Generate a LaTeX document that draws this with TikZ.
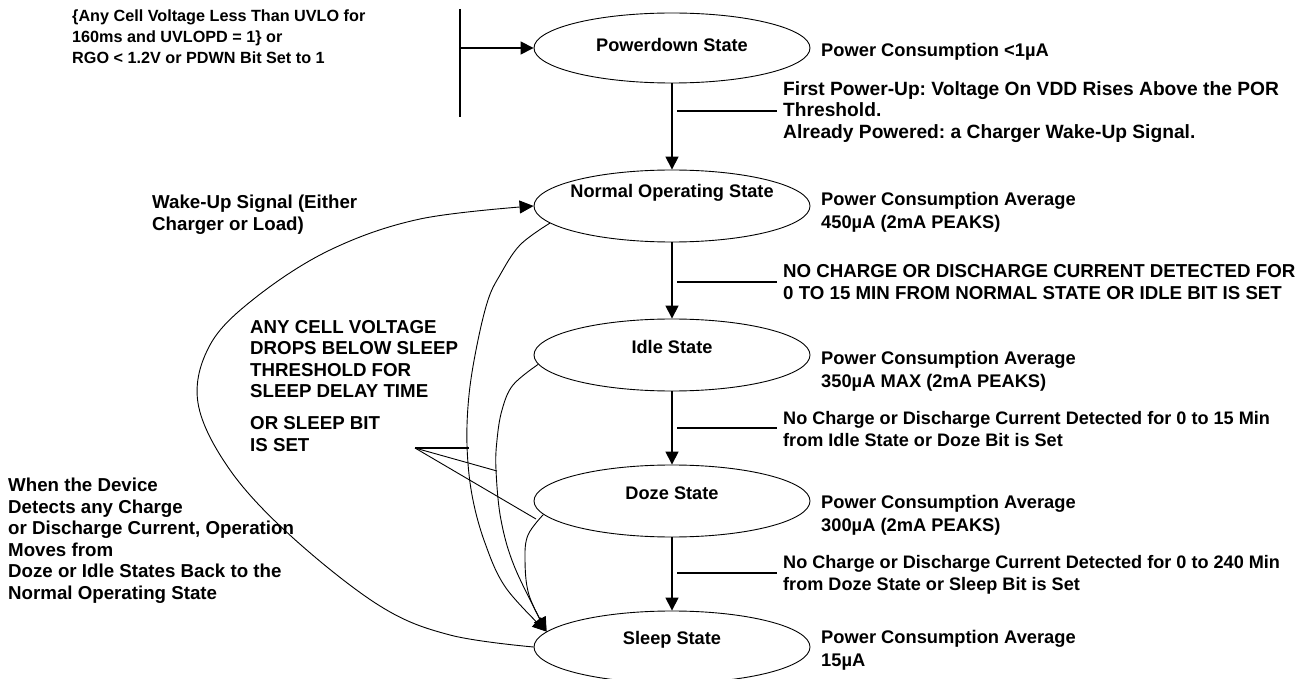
\documentclass[tikz,border=0pt]{standalone}
\usepackage{fontspec}
\setmainfont{Liberation Sans}
\usetikzlibrary{arrows.meta,shapes.geometric}
\newcommand\dgfont{\fontsize{18.7}{21.5}\selectfont\bfseries\frenchspacing}
\newcommand\dgsmfont{\fontsize{18.1}{21.5}\selectfont\bfseries\frenchspacing}
\newcommand\dgbigfont{\fontsize{19.2}{21.5}\selectfont\bfseries\frenchspacing}
\newcommand\dgstfont{\fontsize{18.2}{21.5}\selectfont\bfseries}
\newcommand\dgpwfont{\fontsize{18.3}{23}\selectfont\bfseries}
\newcommand\dgtopfont{\fontsize{16.2}{21}\selectfont\bfseries}
\begin{document}
\begin{tikzpicture}[x=1pt,y=-1pt,
  state/.style={draw, ellipse, minimum width=276pt, minimum height=72pt, inner sep=0pt, line width=0.9pt},
  stxt/.style={font=\dgstfont, inner sep=0pt},
  lbl/.style={font=\dgfont, align=left, anchor=west, inner sep=0pt},
  pw/.style={font=\dgpwfont, align=left, anchor=west, inner sep=0pt},
  flow/.style={line width=1.6pt, -{Triangle[length=13pt,width=13pt]}},
  tick/.style={line width=1.6pt},
  curve/.style={line width=0.9pt, -{Triangle[length=14pt,width=13pt]}},
  thinline/.style={line width=0.9pt}
]
\useasboundingbox (0,0) rectangle (1302,679);

% states
\node[state, minimum height=70pt] (pd) at (672,48) {};
\node[state] (norm) at (672,206) {};
\node[state] (idle) at (672,355) {};
\node[state] (doze) at (672,501) {};
\node[state] (sleep) at (672,647) {};

\node[stxt] (pdt) at (672,45) {Powerdown State};
\node[stxt] (normt) at (672,193) {Normal Operating State};
\node[stxt] (idlet) at (672,347) {Idle State};
\node[stxt] (dozet) at (672,493) {Doze State};
\node[stxt] (sleept) at (672,640) {Sleep State};

% top-left entry
\coordinate (bartop) at (460,9);
\coordinate (barbot) at (460,117);
\coordinate (barmid) at (460,48);
\draw[tick] (bartop) -- (barbot);
\draw[flow] (barmid) -- (pd.west);
\node[lbl, font=\dgtopfont] (entry) at (72,37) {\{Any Cell Voltage Less Than UVLO for\\160ms and UVLOPD = 1\} or\\RGO < 1.2V or PDWN Bit Set to 1};

% vertical transitions
\draw[flow] (pd.south) -- (norm.north);
\draw[flow] (norm.south) -- (idle.north);
\draw[flow] (idle.south) -- (doze.north);
\draw[flow] (doze.south) -- (sleep.north);

% transition ticks and labels
\coordinate (t1a) at (677,111); \coordinate (t1b) at (777,111);
\coordinate (t2a) at (677,282); \coordinate (t2b) at (777,282);
\coordinate (t3a) at (677,428); \coordinate (t3b) at (777,428);
\coordinate (t4a) at (677,573); \coordinate (t4b) at (777,573);
\draw[tick] (t1a) -- (t1b);
\draw[tick] (t2a) -- (t2b);
\draw[tick] (t3a) -- (t3b);
\draw[tick] (t4a) -- (t4b);
\node[lbl, font=\dgbigfont] (l1) at (783,112) {First Power-Up: Voltage On VDD Rises Above the POR\\Threshold.\\Already Powered: a Charger Wake-Up Signal.};
\node[lbl] (l2) at (783,282) {NO CHARGE OR DISCHARGE CURRENT DETECTED FOR\\0 TO 15 MIN FROM NORMAL STATE OR IDLE BIT IS SET};
\node[lbl, font=\dgsmfont] (l3) at (783,429) {No Charge or Discharge Current Detected for 0 to 15 Min\\from Idle State or Doze Bit is Set};
\node[lbl, font=\dgsmfont] (l4) at (783,575) {No Charge or Discharge Current Detected for 0 to 240 Min\\from Doze State or Sleep Bit is Set};

% power labels
\node[pw] (p1) at (821,52) {Power Consumption <1µA};
\node[pw] (p2) at (821,212) {Power Consumption Average\\450µA (2mA PEAKS)};
\node[pw] (p3) at (821,371) {Power Consumption Average\\350µA MAX (2mA PEAKS)};
\node[pw] (p4) at (821,515) {Power Consumption Average\\300µA (2mA PEAKS)};
\node[pw] (p5) at (821,650) {Power Consumption Average\\15µA};

% left labels
\node[lbl] (wake) at (152,214.5) {Wake-Up Signal (Either\\Charger or Load)};
\node[lbl] (any) at (250,359) {ANY CELL VOLTAGE\\DROPS BELOW SLEEP\\THRESHOLD FOR\\SLEEP DELAY TIME};
\node[lbl] (orsl) at (250,434) {OR SLEEP BIT\\IS SET};
\node[lbl] (when) at (8,540.5) {When the Device\\Detects any Charge\\or Discharge Current, Operation\\Moves from\\Doze or Idle States Back to the\\Normal Operating State};

% wake-up curve
\draw[curve] plot[smooth, tension=0.6] coordinates {(sleep.west) (450,635) (380,606) (292,537) (230,470) (198,403) (210,345) (255,298) (330,250) (420,219) (norm.west)};

% sleep curves
\draw[curve] plot[smooth, tension=0.6] coordinates {(norm.188) (520,245) (500,275) (488,300) (477,345) (469,395) (467,445) (472,495) (485,543) (506,588) (sleep.173)};
\draw[curve] plot[smooth, tension=0.6] coordinates {(idle.184) (513,385) (502,410) (497,440) (496,470) (501,520) (515,568) (sleep.173)};
\draw[curve] plot[smooth, tension=0.6] coordinates {(doze.186) (528,535) (525,560) (529,595) (sleep.173)};

% sleep label leaders
\coordinate (sb) at (415,448);
\coordinate (sbA) at (469,448);
\coordinate (sbB) at (497,471);
\coordinate (sbC) at (536,519);
\draw[tick] (sb) -- (sbA);
\draw[thinline] (sb) -- (sbB);
\draw[thinline] (sb) -- (sbC);
\end{tikzpicture}
\end{document}
